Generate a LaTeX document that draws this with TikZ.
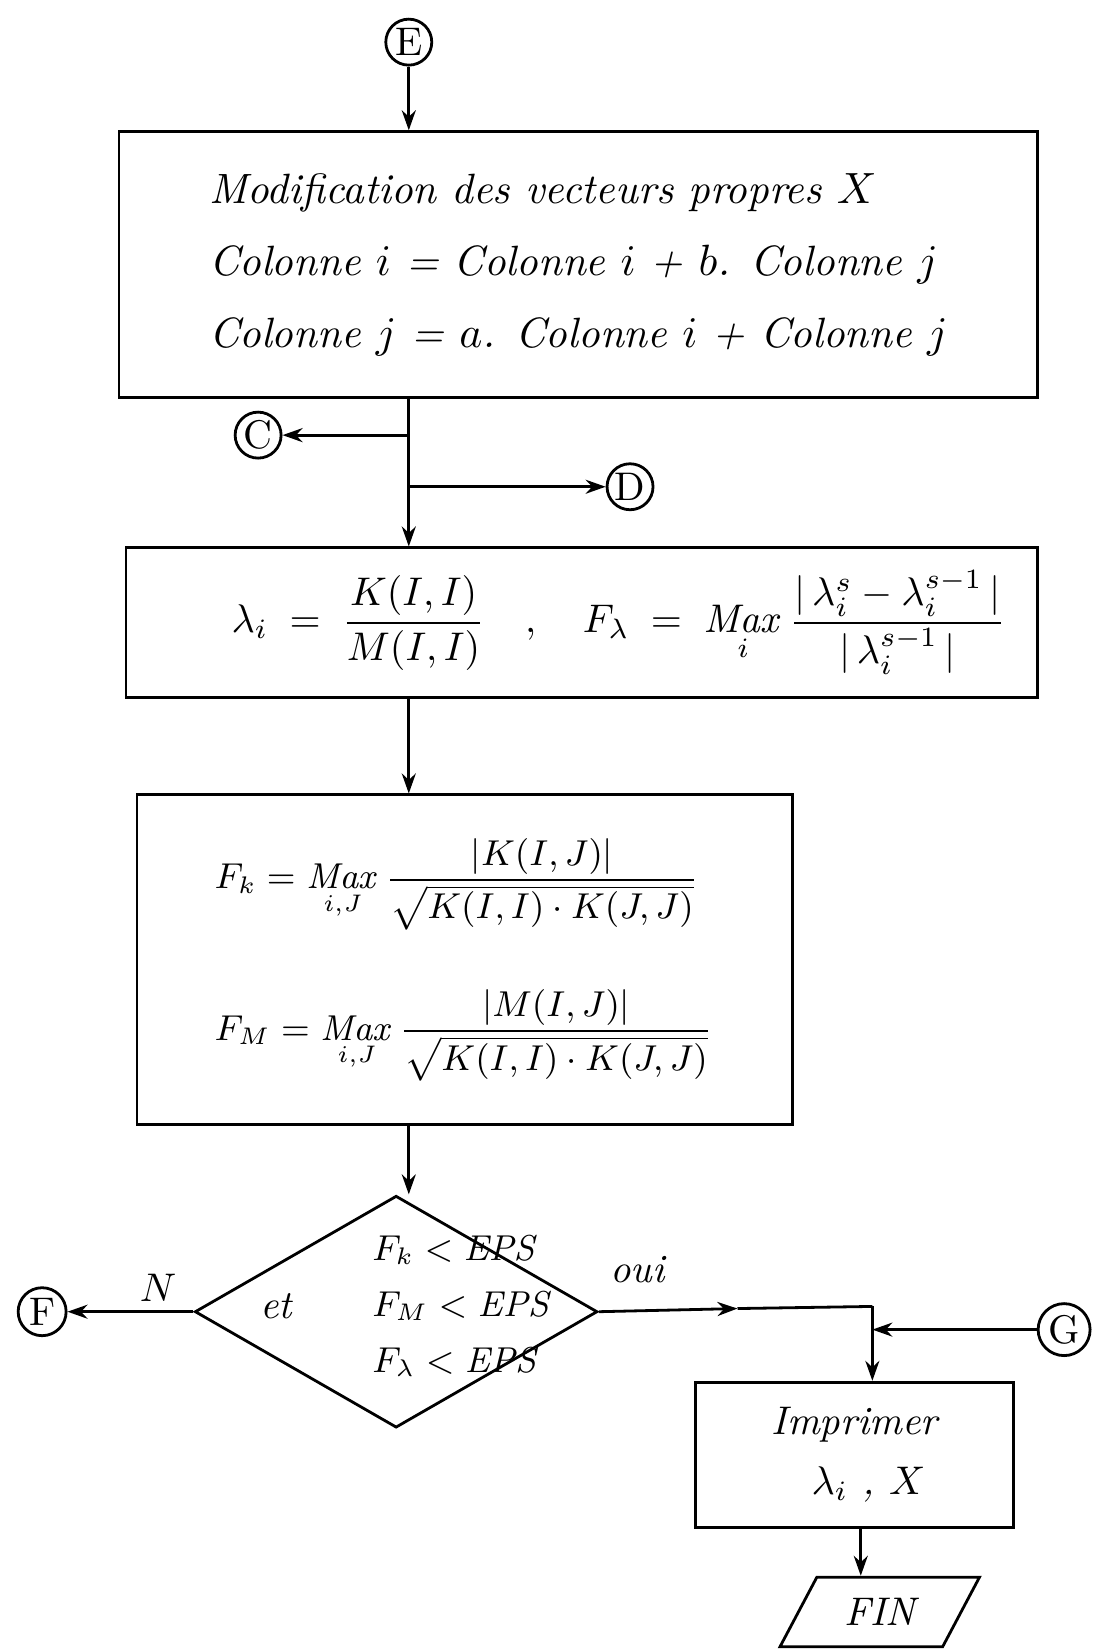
\documentclass[tikz,border=0pt]{standalone}
\usepackage{amsmath}
\usetikzlibrary{shapes.geometric,arrows.meta}
\tikzset{
  trait/.style={line width=0.7pt},
  boite/.style={draw,trait,inner sep=0pt},
  connecteur/.style={draw,circle,trait,inner sep=0pt,minimum size=11.5pt,font=\upshape},
  fleche/.style={trait,-{Stealth[length=5pt,width=3.5pt]}},
}
\begin{document}
\begin{tikzpicture}[x=0.2635pt,y=-0.2635pt,font=\itshape]
\useasboundingbox (0,0) rectangle (1044,1568);
% colonne principale
\coordinate (col) at (388,0);
\node[connecteur] (E) at (388,40) {E};
\node[boite,minimum width=229.8pt,minimum height=66.4pt,align=left,font=\itshape\fontsize{10.6}{13}\selectfont] (modif) at (549,251)
  {Modification des vecteurs propres $X$\\[5pt]
   Colonne $i$ = Colonne $i$ + $b$. Colonne $j$\\[5pt]
   Colonne $j$ = $a$. Colonne $i$ + Colonne $j$};
\coordinate (br1) at (388,413);
\coordinate (br2) at (388,462);
\node[connecteur] (C) at (245,413) {C};
\node[connecteur] (D) at (598,462) {D};
\node[boite,minimum width=227.9pt,minimum height=37.4pt,text width=212pt,align=right] (lambda) at (552,591)
  {$\lambda_i = \dfrac{K(I,I)}{M(I,I)} \quad , \quad
    F_\lambda = \mathop{\mathit{Max}}\limits_{i} \dfrac{|\,\lambda^{s}_{i} - \lambda^{s-1}_{i}\,|}{|\,\lambda^{s-1}_{i}\,|}$};
\node[boite,minimum width=163.9pt,minimum height=82.5pt,text width=125pt,align=left,font=\small] (conv) at (441,911)
  {$F_k = \mathop{\mathit{Max}}\limits_{i,J} \dfrac{|K(I,J)|}{\sqrt{K(I,I)\cdot K(J,J)}}$\\[14pt]
   $F_M = \mathop{\mathit{Max}}\limits_{i,J} \dfrac{|M(I,J)|}{\sqrt{K(I,I)\cdot K(J,J)}}$};
% test de convergence
\node[diamond,draw,trait,inner sep=0pt,minimum width=100.7pt,minimum height=58pt] (test) at (376,1245) {};
\node[align=left,anchor=west,font=\small] (testtxt) at (340,1240)
  {$F_k < \mathit{EPS}$\\[3pt] $F_M < \mathit{EPS}$\\[3pt] $F_\lambda < \mathit{EPS}$};
\node (et) at (262,1240) {et};
\node (labN) at (150,1222) {$N$};
\node (labOui) at (605,1205) {oui};
\node[connecteur,minimum size=12pt] (F) at (40,1245) {F};
\node[connecteur,minimum size=13pt] (G) at (1010,1262) {G};
\coordinate (m1) at (700,1242);
\coordinate (j1) at (828,1240);
\coordinate (col2) at (817,0);
\node[boite,minimum width=79.6pt,minimum height=36.4pt,align=left] (imp) at (811,1381)
  {Imprimer\\[3pt] \quad$\lambda_i$ , $X$};
\node[trapezium,draw,trait,trapezium left angle=62,trapezium right angle=118,
  trapezium stretches=true,minimum width=50pt,minimum height=17.4pt] (fin) at (835,1530) {FIN};
% connecteurs
\draw[fleche] (E) -- (modif.north -| E);
\draw[trait] (modif.south -| col) -- (br1);
\draw[fleche] (br1) -- (C);
\draw[trait] (br1) -- (br2);
\draw[fleche] (br2) -- (D);
\draw[fleche] (br2) -- (lambda.north -| col);
\draw[fleche] (lambda.south -| col) -- (conv.north -| col);
\draw[fleche] (conv.south -| col) -- (test.north -| col);
\draw[fleche] (test.west) -- (F);
\draw[fleche] (test.east) -- (m1);
\draw[trait] (m1) -- (j1);
\draw[fleche] (j1) -- (imp.north -| j1);
\draw[fleche] (G) -- (G -| j1);
\draw[fleche] (imp.south -| col2) -- (fin.north -| col2);
\end{tikzpicture}
\end{document}
